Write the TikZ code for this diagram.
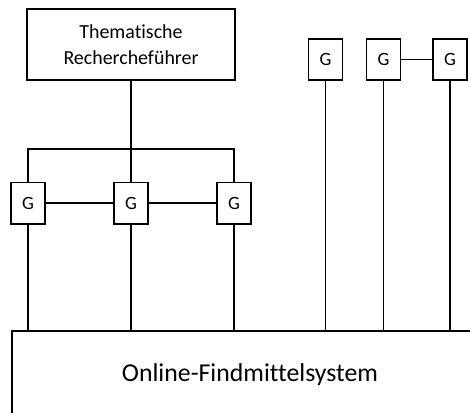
\documentclass[tikz,border=0pt]{standalone}
\usepackage{fontspec}
\setmainfont{Carlito}[Ligatures=NoCommon]
\usepackage{tikz}
\usetikzlibrary{positioning, calc}

\begin{document}
\begin{tikzpicture}[
    x=0.03cm, y=-0.03cm,
    box/.style={
        rectangle,
        draw=black,
        line width=1.7pt,
        fill=white,
        align=center
    },
    gbox/.style={
        box,
        minimum width=1.02cm,
        minimum height=1.23cm,
        inner sep=0pt,
        font=\fontsize{16}{18}\selectfont
    },
    link/.style={line width=1.7pt, black}
]
    \useasboundingbox (0,0) rectangle (470,412);
    \clip (0,0) rectangle (470,412);

    % Boxes
    \node[box, minimum width=6.21cm, minimum height=2.13cm,
          font=\fontsize{17}{22}\selectfont] (guide) at (131,44.5)
        {Thematische\\Recherchef\"uhrer};
    \node[box, minimum width=14.28cm, minimum height=2.64cm,
          font=\fontsize{22}{26}\selectfont] (system) at (250,375)
        {Online-Findmittelsystem};

    \node[gbox] (ga) at (28,203) {G};
    \node[gbox] (gb) at (131,203) {G};
    \node[gbox] (gc) at (234,203) {G};
    \node[gbox] (gd) at (325.5,59.5) {G};
    \node[gbox] (ge) at (383.5,59.5) {G};
    \node[gbox] (gf) at (450,59.5) {G};

    \coordinate (bar) at (131,149);

    % Links
    \draw[link] (guide.south) -- (gb.north);
    \draw[link] (ga.north) -- (ga.north |- bar) -- (gc.north |- bar) -- (gc.north);
    \draw[link] (ga) -- (gb);
    \draw[link] (gb) -- (gc);
    \draw[link] (ge) -- (gf);
    \foreach \g in {ga, gb, gc, gd, ge, gf}
        \draw[link] (\g.south) -- (\g.south |- system.north);

\end{tikzpicture}
\end{document}
